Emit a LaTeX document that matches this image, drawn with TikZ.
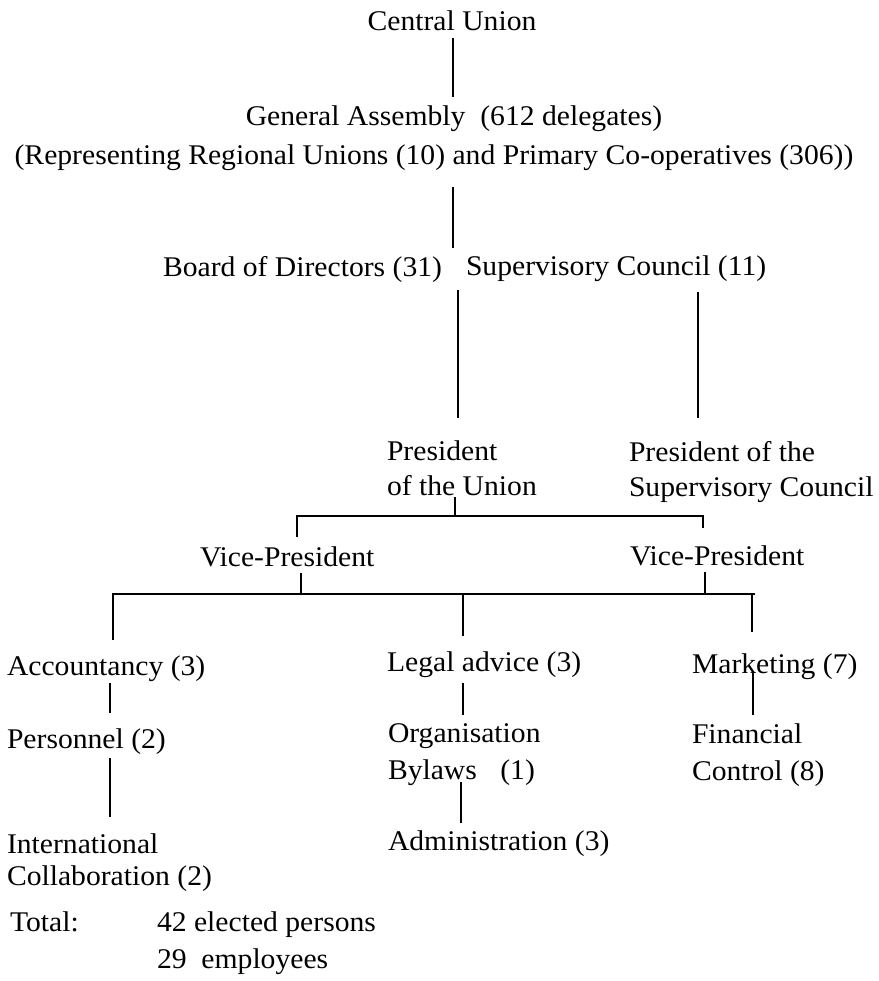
\documentclass[tikz,border=0pt]{standalone}
\usepackage{fontspec}
\setmainfont{Liberation Serif}[FakeStretch=1.04]
\begin{document}
\begin{tikzpicture}[x=1pt,y=-1pt,
  txt/.style={inner sep=0pt, outer sep=0pt, align=left, font=\fontsize{28.5}{35}\selectfont},
  conn/.style={line width=1.9pt, line cap=butt}]
\useasboundingbox (0,0) rectangle (878,981);
% text nodes
\node[txt, anchor=north] (cu) at (452,11) {Central Union};
\node[txt, anchor=north] (ga1) at (454,106) {General Assembly\ \ (612 delegates)};
\node[txt, anchor=north] (ga2) at (434,145) {(Representing Regional Unions (10) and Primary Co-operatives (306))};
\node[txt, anchor=north west] (bd) at (163,256) {Board of Directors (31)};
\node[txt, anchor=north west] (sc) at (466,256) {Supervisory Council (11)};
\node[txt, anchor=north west] (pu) at (387,441) {President\\of the Union};
\node[txt, anchor=north west] (ps) at (629,441) {President of the\\Supervisory Council};
\node[txt, anchor=north west] (vp1) at (200,546.5) {Vice-President};
\node[txt, anchor=north west] (vp2) at (630,546) {Vice-President};
\node[txt, anchor=north west] (acc) at (7,656) {Accountancy (3)};
\node[txt, anchor=north west] (legal) at (387,652) {Legal advice (3)};
\node[txt, anchor=north west] (mkt) at (692,654) {Marketing (7)};
\node[txt, anchor=north west] (pers) at (7,729) {Personnel (2)};
\node[txt, anchor=north west, font=\fontsize{28.5}{37}\selectfont] (org) at (388,724) {Organisation\\Bylaws\hspace{16pt} (1)};
\node[txt, anchor=north west, font=\fontsize{28.5}{37}\selectfont] (fin) at (692,724) {Financial\\Control (8)};
\node[txt, anchor=north west] (adm) at (388,831) {Administration (3)};
\node[txt, anchor=north west, font=\fontsize{28.5}{32}\selectfont] (intl) at (7,834) {International\\Collaboration (2)};
\node[txt, anchor=north west] (tot) at (10,912) {Total:};
\node[txt, anchor=north west] (el) at (157,912) {42 elected persons};
\node[txt, anchor=north west] (emp) at (157,949) {29\ \ employees};
% connector end points
\coordinate (cuA) at (453,38);   \coordinate (cuB) at (453,97);
\coordinate (gaA) at (453,187);  \coordinate (gaB) at (453,248);
\coordinate (bdA) at (458,290);  \coordinate (bdB) at (458,418);
\coordinate (scA) at (698,292);  \coordinate (scB) at (698,418);
\coordinate (puA) at (455,497);  \coordinate (puB) at (455,516);
\coordinate (brL) at (297,516);  \coordinate (brR) at (703,516);
\coordinate (brLd) at (297,537); \coordinate (brRd) at (703,528);
\coordinate (v1A) at (301,573);  \coordinate (v1B) at (301,594);
\coordinate (v2A) at (705,572);  \coordinate (v2B) at (705,594);
\coordinate (hL) at (113,594);   \coordinate (hR) at (755,594);
\coordinate (accT) at (113,640);
\coordinate (mT) at (463,594);   \coordinate (legT) at (463,636);
\coordinate (rT) at (752,594);   \coordinate (mktT) at (752,632);
\coordinate (a1) at (110,683);   \coordinate (a2) at (110,713);
\coordinate (p1) at (110,758);   \coordinate (p2) at (110,817);
\coordinate (l1) at (463,683);   \coordinate (l2) at (463,715);
\coordinate (o1) at (461,782);   \coordinate (o2) at (461,823);
\coordinate (m1) at (753,673);   \coordinate (m2) at (753,715);
% connectors
\draw[conn] (cuA) -- (cuB);
\draw[conn] (gaA) -- (gaB);
\draw[conn] (bdA) -- (bdB);
\draw[conn] (scA) -- (scB);
\draw[conn] (puA) -- (puB);
\draw[conn] (brLd) -- (brL) -- (brR) -- (brRd);
\draw[conn] (v1A) -- (v1B);
\draw[conn] (v2A) -- (v2B);
\draw[conn] (accT) -- (hL) -- (hR);
\draw[conn] (mT) -- (legT);
\draw[conn] (rT) -- (mktT);
\draw[conn] (a1) -- (a2);
\draw[conn] (p1) -- (p2);
\draw[conn] (l1) -- (l2);
\draw[conn] (o1) -- (o2);
\draw[conn] (m1) -- (m2);
\end{tikzpicture}
\end{document}
